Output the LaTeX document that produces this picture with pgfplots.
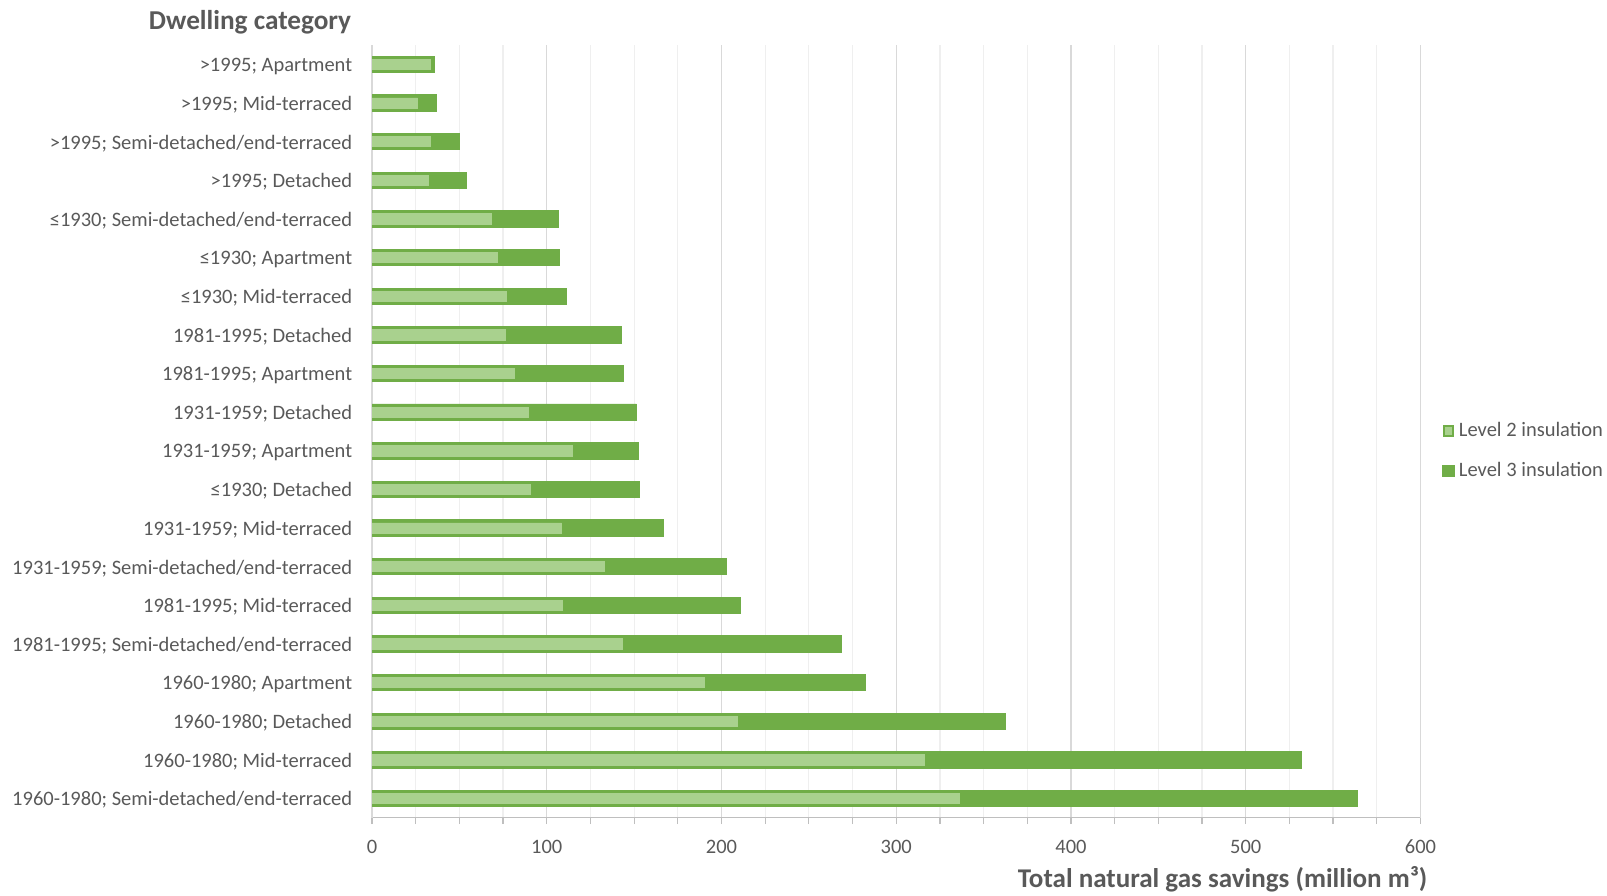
\documentclass[border=0pt]{standalone}
\usepackage{fontspec}
\setmainfont{Carlito}
\usepackage{pgfplots}
\usepackage{pgfplotstable}
\pgfplotsset{compat=1.18}
\definecolor{lthree}{HTML}{70AD47}
\definecolor{ltwo}{HTML}{A9D18E}
\definecolor{tgray}{HTML}{595959}
\definecolor{gmaj}{HTML}{D9D9D9}
\definecolor{gmin}{HTML}{EFEFEF}
\definecolor{axgray}{HTML}{BFBFBF}
\pgfplotstableread{
idx l2 l3
0 336.3 563.8
1 316.2 532.0
2 208.9 362.7
3 190.0 282.1
4 143.1 268.6
5 109.1 210.6
6 133.1 202.9
7 108.5 166.6
8 90.9 153.1
9 114.4 152.5
10 89.7 151.3
11 81.5 143.7
12 76.2 142.5
13 76.8 111.4
14 71.6 107.3
15 68.5 106.6
16 32.2 53.8
17 33.4 50.0
18 26.1 36.6
19 33.6 35.5
}\data
\begin{document}
\begin{tikzpicture}
\useasboundingbox (-181.5pt,-38pt) rectangle (602.5pt,399pt);
\begin{axis}[
  at={(0pt,0pt)}, anchor=south west,
  scale only axis, width=511.5pt, height=377pt,
  xbar,
  xmin=0, xmax=600, ymin=-0.5, ymax=19.5,
  xtick={0,100,...,600}, minor x tick num=3,
  ytick={0,...,19},
  yticklabels={
    1960-1980; Semi-detached/end-terraced,
    1960-1980; Mid-terraced,
    1960-1980; Detached,
    1960-1980; Apartment,
    1981-1995; Semi-detached/end-terraced,
    1981-1995; Mid-terraced,
    1931-1959; Semi-detached/end-terraced,
    1931-1959; Mid-terraced,
    ≤1930; Detached,
    1931-1959; Apartment,
    1931-1959; Detached,
    1981-1995; Apartment,
    1981-1995; Detached,
    ≤1930; Mid-terraced,
    ≤1930; Apartment,
    ≤1930; Semi-detached/end-terraced,
    >1995; Detached,
    >1995; Semi-detached/end-terraced,
    >1995; Mid-terraced,
    >1995; Apartment},
  axis x line*=bottom, axis y line*=left,
  x axis line style={draw=axgray, line width=0.6pt},
  y axis line style={draw=gmaj, line width=0.6pt},
  xmajorgrids, xminorgrids,
  major grid style={draw=gmaj, line width=0.6pt},
  minor grid style={draw=gmin, line width=0.6pt},
  tick align=outside,
  major tick length=3pt, minor tick length=3pt,
  xtick style={draw=axgray, line width=0.6pt},
  ytick style={draw=none},
  /pgf/number format/assume math mode=true,
  xticklabel style={font=\fontsize{10}{12}\selectfont, text=tgray, inner sep=0pt, anchor=north, yshift=-7.5pt},
  yticklabel style={font=\fontsize{10}{12}\selectfont, text=tgray, inner sep=0pt, anchor=east, xshift=-6.5pt, yshift=-0.8pt},
  reverse legend,
  legend cell align=left,
  legend style={at={(1.0205,0.4748)}, anchor=west, draw=none, fill=none,
    inner sep=0pt, row sep=9pt,
    font=\fontsize{10}{12}\selectfont, text=tgray,
    nodes={inner sep=1pt},
    /tikz/every odd column/.append style={column sep=1.2pt}},
]
\addplot[fill=lthree, draw=lthree, bar width=8pt, bar shift=0pt,
  legend image code/.code={\fill[lthree] (0pt,-2.75pt) rectangle (5.5pt,2.75pt);}]
  table[x=l3, y=idx] {\data};
\addlegendentry{Level 3 insulation}
\addplot[fill=ltwo, draw=ltwo, bar width=5pt, bar shift=0pt,
  legend image code/.code={\filldraw[fill=ltwo, draw=lthree, line width=1pt] (0.5pt,-2.25pt) rectangle (5pt,2.25pt);}]
  table[x=l2, y=idx] {\data};
\addlegendentry{Level 2 insulation}
\end{axis}
\node[anchor=east, font=\bfseries\fontsize{13.3}{16}\selectfont, text=tgray, inner sep=0pt] at (-10pt,388pt) {Dwelling category};
\node[anchor=east, font=\bfseries\fontsize{13.2}{16}\selectfont, text=tgray, inner sep=0pt] at (515pt,-30pt) {Total natural gas savings (million m³)};
\end{tikzpicture}
\end{document}
